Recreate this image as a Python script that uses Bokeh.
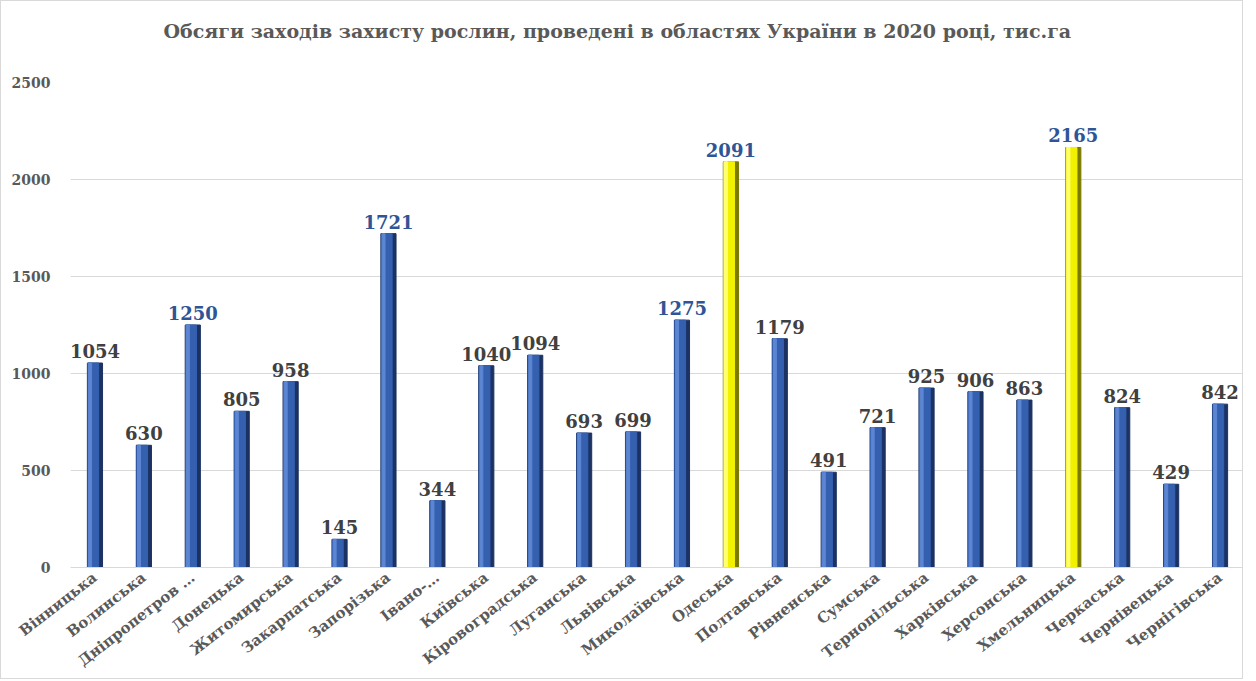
import math
from bokeh.plotting import figure
from bokeh.models import ColumnDataSource, FactorRange, Range1d, Title
from bokeh.transform import dodge
from bokeh.core.properties import value
from bokeh.embed import file_html
from bokeh.resources import INLINE

regions = ["Вінницька", "Волинська", "Дніпропетров …", "Донецька", "Житомирська",
           "Закарпатська", "Запорізька", "Івано-…", "Київська", "Кіровоградська",
           "Луганська", "Львівська", "Миколаївська", "Одеська", "Полтавська",
           "Рівненська", "Сумська", "Тернопільська", "Харківська", "Херсонська",
           "Хмельницька", "Черкаська", "Чернівецька", "Чернігівська"]
values = [1054, 630, 1250, 805, 958, 145, 1721, 344, 1040, 1094, 693, 699, 1275,
          2091, 1179, 491, 721, 925, 906, 863, 2165, 824, 429, 842]
highlight = ["Одеська", "Хмельницька"]
blue_labels = ["Дніпропетров …", "Запорізька", "Миколаївська", "Одеська", "Хмельницька"]
y_ticks = [0, 500, 1000, 1500, 2000, 2500]

dark = ["#7A7A00" if r in highlight else "#1B3263" for r in regions]
mid = ["#F2F200" if r in highlight else "#3560B0" for r in regions]
light = ["#FFFF70" if r in highlight else "#5C86D2" for r in regions]
lab_col = ["#2F5597" if r in blue_labels else "#404040" for r in regions]
labels = [str(v) for v in values]

src = ColumnDataSource(dict(x=regions, y=values, dark=dark, mid=mid, light=light,
                            lc=lab_col, lab=labels))

SERIF = "DejaVu Serif"

p = figure(x_range=FactorRange(*regions), y_range=Range1d(0, 2500),
           width=1243, height=679, output_backend="svg", toolbar_location=None,
           min_border_left=69, min_border_right=0, min_border_top=0, min_border_bottom=0)
p.styles = {"border": "1px solid #D9D9D9"}
p.title = None

inner_space = Title(text=" ", text_font_size="35px", standoff=0)
main_title = Title(text="Обсяги заходів захисту рослин, проведені в областях України в 2020 році, тис.га",
                   align="left", text_font=SERIF, text_font_size="19px",
                   text_font_style="bold", text_color="#595959", offset=93, standoff=0)
top_space = Title(text=" ", text_font_size="12px", standoff=0)
p.add_layout(inner_space, "above")
p.add_layout(main_title, "above")
p.add_layout(top_space, "above")

p.vbar(x="x", top="y", width=0.31, color="dark", source=src)
p.vbar(x=dodge("x", -0.035, range=p.x_range), top="y", width=0.22, color="mid", source=src)
p.vbar(x=dodge("x", -0.1, range=p.x_range), top="y", width=0.06, color="light", source=src)

p.text(x="x", y="y", text="lab", source=src, text_align="center", text_baseline="bottom",
       y_offset=-5, text_font=value(SERIF), text_font_size="18px", text_font_style="bold",
       text_color="lc")

p.outline_line_color = None
p.background_fill_color = "white"
p.border_fill_color = "white"

p.xgrid.grid_line_color = None
p.ygrid.grid_line_color = "#D9D9D9"
p.ygrid.grid_line_width = 1

p.yaxis.ticker = y_ticks
p.yaxis.axis_line_color = None
p.yaxis.major_tick_line_color = None
p.yaxis.minor_tick_line_color = None
p.yaxis.major_label_text_font = SERIF
p.yaxis.major_label_text_font_size = "14px"
p.yaxis.major_label_text_font_style = "bold"
p.yaxis.major_label_text_color = "#595959"
p.yaxis.major_label_standoff = 14

p.xaxis.axis_line_color = "#D9D9D9"
p.xaxis.major_tick_line_color = None
p.xaxis.minor_tick_line_color = None
p.xaxis.major_label_orientation = 0.66
p.xaxis.major_label_text_font = SERIF
p.xaxis.major_label_text_font_size = "15px"
p.xaxis.major_label_text_font_style = "bold"
p.xaxis.major_label_text_color = "#595959"
p.xaxis.major_label_standoff = 2
p.x_range.range_padding = 0
p.x_range.group_padding = 0

open("out.html", "w").write(file_html(p, INLINE))
